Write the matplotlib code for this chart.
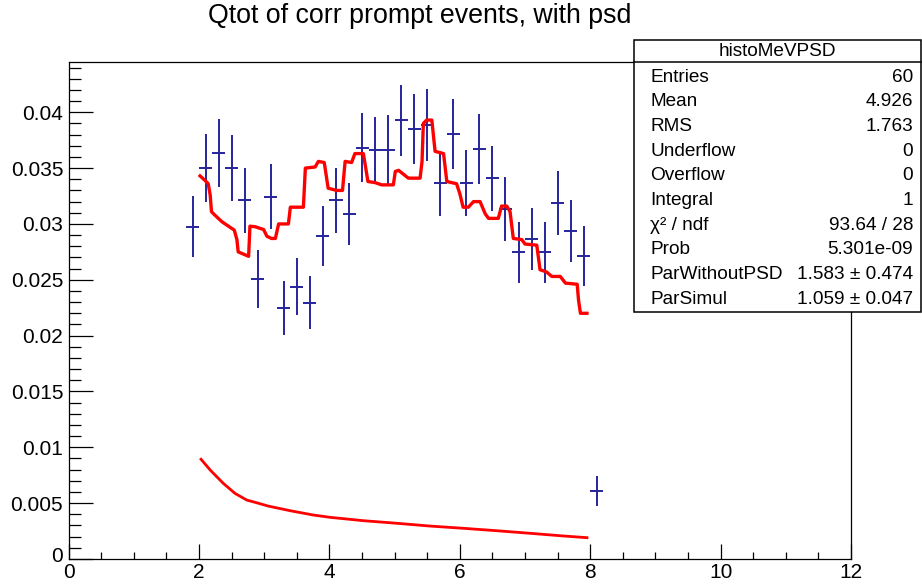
import numpy as np
import matplotlib
matplotlib.use("Agg")
import matplotlib.pyplot as plt
import matplotlib.transforms as mtransforms
from matplotlib.patches import Rectangle
from matplotlib.lines import Line2D
from matplotlib.ticker import MultipleLocator, FuncFormatter

plt.rcParams["font.family"] = ["Liberation Sans", "DejaVu Sans"]

# ---- measured spectrum (bin width 0.2 MeV) ----
data_x = [1.9, 2.1, 2.3, 2.5, 2.7, 2.9, 3.1, 3.3, 3.5, 3.7, 3.9,
          4.1, 4.3, 4.5, 4.7, 4.9, 5.1, 5.3, 5.5, 5.7, 5.9,
          6.1, 6.3, 6.5, 6.7, 6.9, 7.1, 7.3, 7.5, 7.7, 7.9, 8.1]
data_y = [0.02975, 0.0350, 0.03637, 0.0350, 0.0321, 0.02507, 0.03244,
          0.02247, 0.02438, 0.02295, 0.02892, 0.0321, 0.03089, 0.03682,
          0.03662, 0.03662, 0.0393, 0.03847, 0.03885, 0.03363, 0.03802,
          0.03363, 0.0367, 0.03408, 0.0313, 0.02746, 0.02865, 0.02746,
          0.03184, 0.02936, 0.02713, 0.00612]
data_err = [0.00273, 0.00307, 0.00303, 0.00298, 0.00289, 0.00257, 0.00289,
            0.00242, 0.00254, 0.00239, 0.00269, 0.00289, 0.00282, 0.00307,
            0.00295, 0.0031, 0.00318, 0.00313, 0.00321, 0.00294, 0.00313,
            0.00295, 0.0031, 0.00291, 0.00286, 0.00271, 0.00276, 0.00271,
            0.00286, 0.00276, 0.00266, 0.00134]

# ---- simulation (fitted sum) ----
simul_x = [2.015, 2.09, 2.14, 2.17, 2.19, 2.24, 2.35, 2.45, 2.54, 2.58,
           2.60, 2.68, 2.76, 2.78, 2.86, 2.99, 3.04, 3.11, 3.17, 3.22,
           3.37, 3.40, 3.60, 3.63, 3.78, 3.83, 3.92, 3.98, 4.11, 4.20,
           4.24, 4.34, 4.39, 4.52, 4.59, 4.70, 4.80, 4.98, 5.01, 5.06,
           5.21, 5.39, 5.42, 5.44, 5.49, 5.57, 5.62, 5.75, 5.80, 5.95,
           6.00, 6.05, 6.13, 6.21, 6.31, 6.39, 6.44, 6.59, 6.64, 6.72,
           6.77, 6.82, 6.95, 7.00, 7.18, 7.23, 7.33, 7.41, 7.54, 7.62,
           7.80, 7.82, 7.85, 7.95]
simul_y = [0.0343, 0.0339, 0.0336, 0.0326, 0.0311, 0.0308, 0.0302, 0.0298,
           0.02945, 0.0286, 0.0275, 0.0273, 0.0271, 0.0298, 0.02975,
           0.0295, 0.0289, 0.0287, 0.0287, 0.0300, 0.0300, 0.0315, 0.0315,
           0.0350, 0.0351, 0.0356, 0.0355, 0.0332, 0.0330, 0.0330, 0.0356,
           0.0355, 0.0363, 0.0363, 0.0338, 0.0337, 0.0335, 0.0335, 0.0347,
           0.0348, 0.0341, 0.0341, 0.0356, 0.0390, 0.0393, 0.0393, 0.0365,
           0.0363, 0.0338, 0.0336, 0.0327, 0.0315, 0.0315, 0.0320, 0.0320,
           0.0309, 0.0305, 0.0305, 0.0316, 0.0316, 0.0311, 0.0287, 0.0286,
           0.0282, 0.0281, 0.0259, 0.0257, 0.0253, 0.0253, 0.0247, 0.0246,
           0.0232, 0.0220, 0.0220]

# ---- component without psd ----
nopsd_x = [2.03, 2.17, 2.37, 2.55, 2.73, 2.88, 3.06, 3.40, 3.75, 4.01,
           4.52, 5.03, 5.54, 6.05, 6.57, 7.08, 7.59, 7.95]
nopsd_y = [0.00893, 0.00797, 0.00678, 0.00588, 0.00528, 0.00504, 0.00474,
           0.00432, 0.00394, 0.00373, 0.00343, 0.0032, 0.00295, 0.00275,
           0.00253, 0.0023, 0.00206, 0.00191]

# ---- stats box ----
stats_name = "histoMeVPSD"
stats_labels = ["Entries", "Mean", "RMS", "Underflow", "Overflow",
                "Integral", "χ² / ndf", "Prob", "ParWithoutPSD", "ParSimul"]
stats_values = ["60", "4.926", "1.763", "0", "0", "1", "93.64 / 28",
                "5.301e-09", "1.583 ± 0.474", "1.059 ± 0.047"]

W, H = 922, 586


def fx(px):
    return px / W


def fy(py):
    return 1 - py / H


fig = plt.figure(figsize=(W / 100, H / 100), dpi=100)

ax = fig.add_axes([fx(68.7), fy(559), (851 - 68.7) / W, (559 - 62) / H])

ax.errorbar(data_x, data_y, yerr=data_err, xerr=0.1, fmt="none",
            ecolor="#25259c", elinewidth=1.4, capsize=0, zorder=3)
ax.plot(simul_x, simul_y, color="red", linewidth=2.4, zorder=4)
ax.plot(nopsd_x, nopsd_y, color="red", linewidth=2.0, zorder=4)

ax.set_xlim(0, 12)
ax.set_ylim(0, 0.0445)

ax.xaxis.set_major_locator(MultipleLocator(2))
ax.xaxis.set_minor_locator(MultipleLocator(0.5))
ax.yaxis.set_major_locator(MultipleLocator(0.005))
ax.yaxis.set_minor_locator(MultipleLocator(0.001))
ax.yaxis.set_major_formatter(FuncFormatter(lambda v, _: "%g" % round(v, 4)))
ax.xaxis.set_major_formatter(FuncFormatter(lambda v, _: "%g" % v))

ax.tick_params(axis="both", which="both", direction="in", top=False,
               right=False, width=0.9, labelsize=15, colors="black")
ax.tick_params(axis="x", which="major", length=10.8, pad=3)
ax.tick_params(axis="x", which="minor", length=5.2)
ax.tick_params(axis="y", which="major", length=17.3, pad=4)
ax.tick_params(axis="y", which="minor", length=8.6)
for sp in ax.spines.values():
    sp.set_linewidth(0.9)

# title
fig.text(fx(419.5), fy(23), "Qtot of corr prompt events, with psd",
         ha="center", va="baseline", fontsize=19.3)

# stats box
box_left, box_right, box_top, box_bottom = 634, 921, 40, 312
fig.patches.append(Rectangle((fx(box_left), fy(box_bottom)),
                             (box_right - box_left) / W,
                             (box_bottom - box_top) / H,
                             transform=fig.transFigure, facecolor="white",
                             edgecolor="black", linewidth=1.1, zorder=10))
fig.lines.append(Line2D([fx(box_left), fx(box_right)], [fy(62), fy(62)],
                        transform=fig.transFigure, color="black",
                        linewidth=1.1, zorder=11))
fig.text(fx((box_left + box_right) / 2), fy(52), stats_name, ha="center",
         va="center", fontsize=13.7, zorder=12)
for i in range(len(stats_labels)):
    yy = fy(77 + 24.7 * i)
    fig.text(fx(650), yy, stats_labels[i], ha="left", va="center",
             fontsize=13.7, zorder=12)
    fig.text(fx(913), yy, stats_values[i], ha="right", va="center",
             fontsize=13.7, zorder=12)

# lift the "0" of the y axis a little, clear of the x labels
fig.canvas.draw()
for tick in ax.yaxis.get_major_ticks():
    if abs(tick.get_loc()) < 1e-9:
        lbl = tick.label1
        lbl.set_transform(lbl.get_transform() +
                          mtransforms.ScaledTranslation(0, 5 / 100,
                                                        fig.dpi_scale_trans))

fig.savefig("out.png", dpi=100)
